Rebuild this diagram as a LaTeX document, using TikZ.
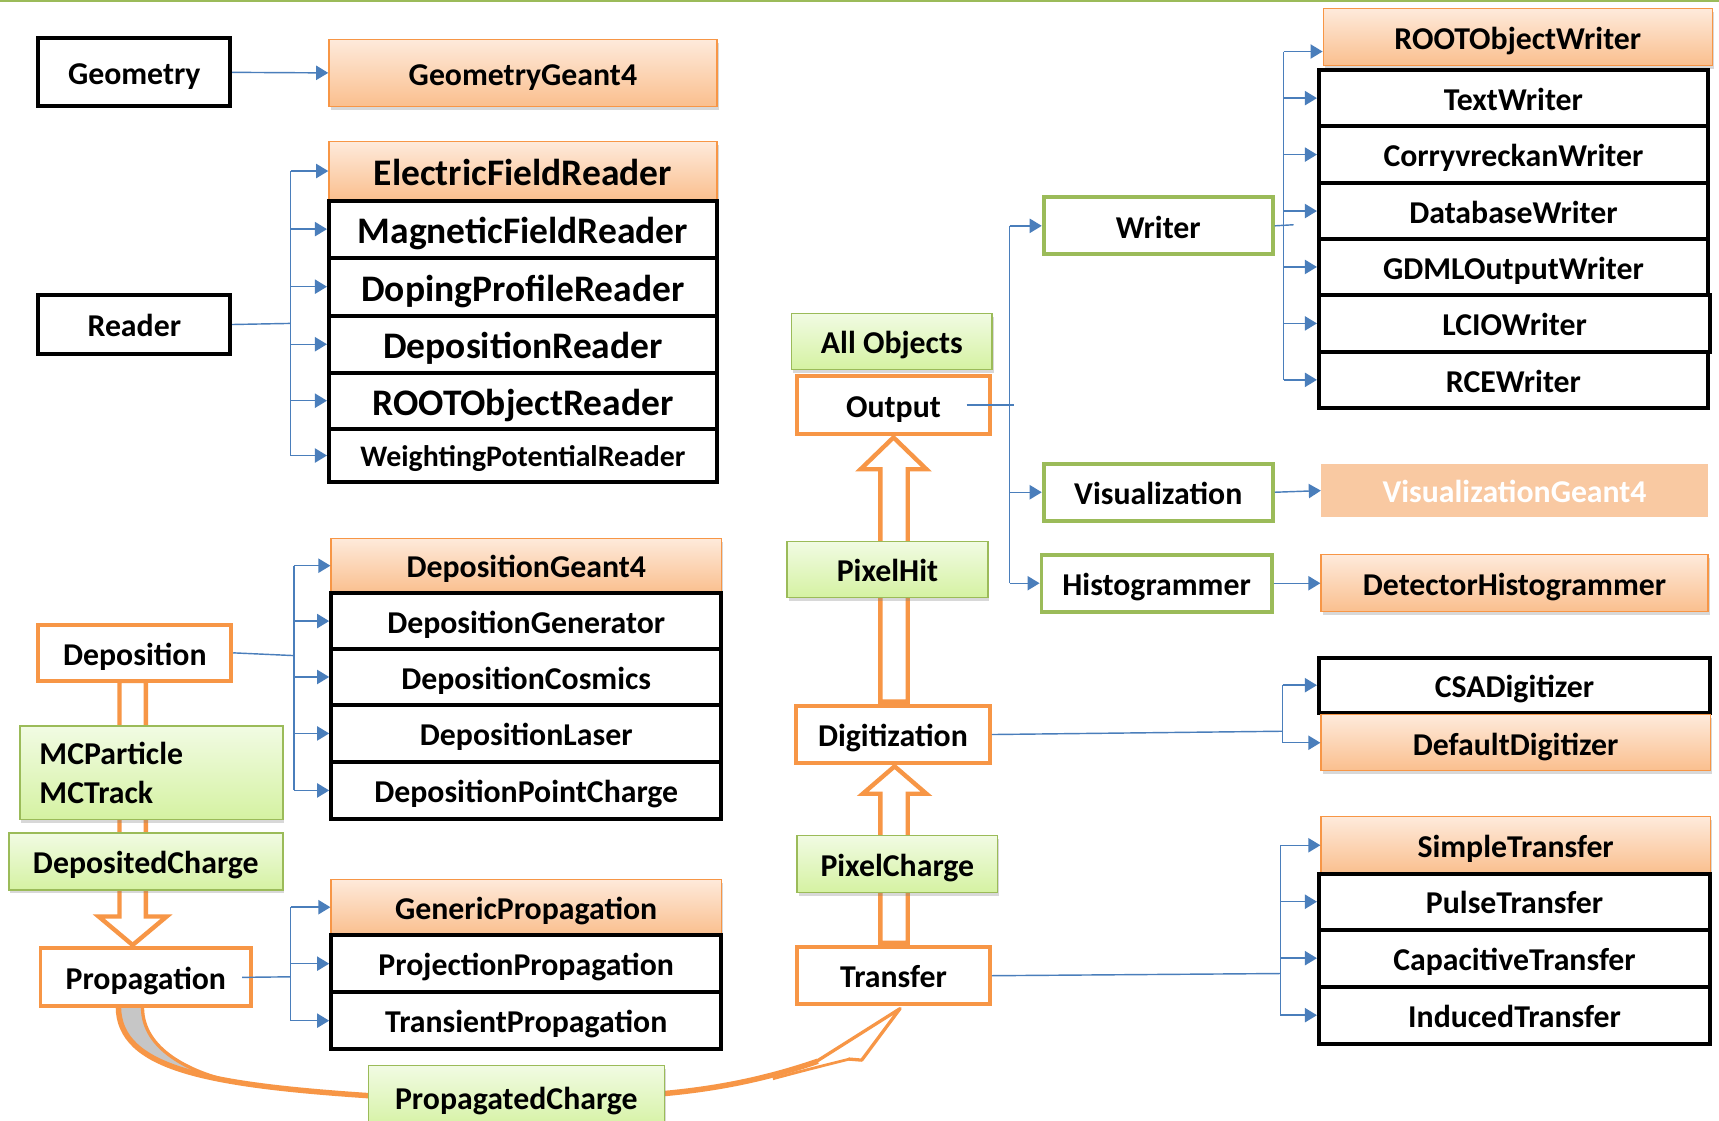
\documentclass[tikz,border=0pt]{standalone}
\usepackage{fontspec}
\setmainfont{Carlito}
\usetikzlibrary{arrows.meta,shadows}
\definecolor{ob}{HTML}{F79646}
\definecolor{otop}{HTML}{FEEADB}
\definecolor{obot}{HTML}{FABF8E}
\definecolor{gb}{HTML}{9BBB59}
\definecolor{gtop}{HTML}{F1FBE3}
\definecolor{gbot}{HTML}{D5F2A2}
\definecolor{bl}{HTML}{4A7EBB}
\definecolor{vg}{HTML}{F9C9A2}
\tikzset{
 base/.style={rectangle, inner sep=2pt, font=\fontsize{29}{34}\selectfont\bfseries},
 ctr/.style={text height=28.2pt, text depth=5.8pt},
 blackbox/.style={base, draw=black, line width=3.5pt, fill=white},
 orgrad/.style={base, draw=ob, line width=1.2pt, top color=otop, bottom color=obot,
   drop shadow={shadow xshift=1.5pt,shadow yshift=-3pt,opacity=.3}},
 grgrad/.style={base, draw=gb, line width=1.5pt, top color=gtop, bottom color=gbot,
   drop shadow={shadow xshift=1.5pt,shadow yshift=-3pt,opacity=.3}},
 orline/.style={base, draw=ob, line width=3.5pt, fill=white},
 grline/.style={base, draw=gb, line width=3.5pt, fill=white},
 visbox/.style={base, fill=vg, text=white},
 bigtxt/.style={font=\fontsize{34.2}{40}\selectfont\bfseries, text height=33.4pt, text depth=6.8pt},
 smalltxt/.style={font=\fontsize{27.2}{32}\selectfont\bfseries, text height=25.8pt, text depth=5.4pt},
 conn/.style={draw=bl, line width=1.3pt},
 arr/.style={conn, -{Triangle[length=11pt,width=13pt]}},
 blockarrow/.style={draw=ob, line width=4pt, fill=white, line join=miter},
}
\newcommand\bx[7]{\node[ctr, #1, minimum width={#5-#3}, minimum height={#6-#4}] (#2) at ({(#3+#5)/2},{(#4+#6)/2}) {#7};}
\begin{document}
\begin{tikzpicture}[x=1pt,y=-1pt]
\useasboundingbox[fill=white] (0,0) rectangle (1568,1022);
\draw[gb, line width=2pt] (0,1) -- (1568,1);

% block arrows
\draw[blockarrow] (109,621) -- (109,836) -- (90,836) -- (121,862) -- (152,836) -- (133,836) -- (133,621) -- cycle;
\draw[blockarrow] (803,640) -- (803,428) -- (785,428) -- (815,399) -- (845,428) -- (828,428) -- (828,640) -- cycle;
\draw[blockarrow] (803,860) -- (803,724) -- (787,724) -- (816,699) -- (845,724) -- (828,724) -- (828,860) -- cycle;

% curved arrow Propagation -> Transfer
\fill[gray!45] (108,918) .. controls (108,955) and (142.6,974.4) .. (209.4,986.1) .. controls (175,978) and (130,958) .. (130,919) -- cycle;
\draw[ob, line width=3pt] (130,919) .. controls (130,958) and (175,978) .. (209.4,986.1);
\draw[ob, line width=5pt] (108,918) .. controls (108,975) and (190,990) .. (345,1000);
\draw[ob, line width=5pt] (600,998) .. controls (660,993) and (705,982) .. (746,968);
\draw[ob, line width=2.5pt] (705,984) .. controls (735,976) .. (775,966);
\draw[ob, line width=3pt, line join=round] (745,968) -- (821,920) -- (786,967) -- (774,966);

% left column
\bx{blackbox}{geo}{35}{35}{210}{97}{Geometry}
\bx{orgrad}{geog4}{300}{36}{654}{97}{GeometryGeant4}
\bx{blackbox}{reader}{35}{269}{210}{323}{Reader}
\bx{orgrad,bigtxt}{efr}{300}{129}{654}{183}{ElectricFieldReader}
\bx{blackbox,bigtxt}{mfr}{300}{183}{654}{235}{MagneticFieldReader}
\bx{blackbox,bigtxt}{dpr}{300}{235}{654}{288}{DopingProfileReader}
\bx{blackbox,bigtxt}{der}{300}{288}{654}{340}{DepositionReader}
\bx{blackbox,bigtxt}{ror}{300}{340}{654}{391}{ROOTObjectReader}
\bx{blackbox,smalltxt}{wpr}{300}{391}{654}{440}{WeightingPotentialReader}

\bx{orline}{dep}{35}{570}{211}{621}{Deposition}
\node[grgrad, minimum width=240, minimum height=85, text width=204pt, align=left, inner xsep=17pt,
  font=\fontsize{29}{35}\selectfont\bfseries] (mcp) at (138,705) {MCParticle\\MCTrack};
\bx{grgrad}{dch}{8}{760}{258}{812}{DepositedCharge}
\bx{orline}{prop}{37}{865}{229}{918}{Propagation}
\bx{orgrad}{dg4}{302}{491}{658}{541}{DepositionGeant4}
\bx{blackbox}{dgen}{302}{541}{658}{592}{DepositionGenerator}
\bx{blackbox}{dcos}{302}{592}{658}{643}{DepositionCosmics}
\bx{blackbox}{dlas}{302}{643}{658}{695}{DepositionLaser}
\bx{blackbox}{dpc}{302}{695}{658}{747}{DepositionPointCharge}
\bx{orgrad}{gp}{302}{802}{658}{853}{GenericPropagation}
\bx{blackbox}{pp}{302}{853}{658}{905}{ProjectionPropagation}
\bx{blackbox}{tp}{302}{905}{658}{957}{TransientPropagation}
\bx{grgrad}{pch}{336}{972}{606}{1030}{PropagatedCharge}

% middle column
\bx{grgrad}{allobj}{722}{286}{905}{337}{All Objects}
\bx{orline}{out}{727}{343}{903}{396}{Output}
\bx{grgrad}{phit}{718}{494}{901}{545}{PixelHit}
\bx{orline}{digit}{726}{644}{903}{696}{Digitization}
\bx{grgrad}{pxch}{727}{762}{910}{814}{PixelCharge}
\bx{orline}{trans}{727}{864}{903}{916}{Transfer}

% right column
\bx{grline}{writer}{952}{180}{1161}{232}{Writer}
\bx{orgrad}{row}{1207}{8}{1562}{60}{ROOTObjectWriter}
\bx{blackbox}{tw}{1203}{64}{1558}{115}{TextWriter}
\bx{blackbox}{cw}{1203}{115}{1558}{167}{CorryvreckanWriter}
\bx{blackbox}{dbw}{1203}{167}{1558}{218}{DatabaseWriter}
\bx{blackbox}{gdml}{1203}{218}{1558}{269}{GDMLOutputWriter}
\bx{blackbox}{lcio}{1203}{269}{1560}{321}{LCIOWriter}
\bx{blackbox}{rce}{1203}{321}{1558}{372}{RCEWriter}
\bx{grline}{vis}{952}{423}{1161}{475}{Visualization}
\bx{visbox}{visg4}{1205}{423}{1558}{472}{VisualizationGeant4}
\bx{grline}{hist}{950}{506}{1160}{558}{Histogrammer}
\bx{orgrad}{dh}{1205}{506}{1558}{558}{DetectorHistogrammer}
\bx{blackbox}{csa}{1203}{600}{1560}{650}{CSADigitizer}
\bx{orgrad}{dd}{1205}{652}{1560}{703}{DefaultDigitizer}
\bx{orgrad}{st}{1205}{745}{1560}{797}{SimpleTransfer}
\bx{blackbox}{ptr}{1203}{797}{1560}{848}{PulseTransfer}
\bx{blackbox}{ct}{1203}{848}{1560}{900}{CapacitiveTransfer}
\bx{blackbox}{it}{1203}{900}{1560}{952}{InducedTransfer}

% connectors
\draw[arr] (geo.east) -- (geog4.west);

\coordinate (rb) at (265,295);
\draw[conn] (reader.east) -- (rb);
\draw[conn] (rb |- efr.west) -- (rb |- wpr.west);
\foreach \n in {efr,mfr,dpr,der,ror,wpr} \draw[arr] (rb |- \n.west) -- (\n.west);

\coordinate (db) at (268,598);
\draw[conn] (dep.east) -- (db);
\draw[conn] (db |- dg4.west) -- (db |- dpc.west);
\foreach \n in {dg4,dgen,dcos,dlas,dpc} \draw[arr] (db |- \n.west) -- (\n.west);

\coordinate (pb) at (265,891);
\draw[conn] ([xshift=-10pt]prop.east) -- (pb);
\draw[conn] (pb |- gp.west) -- (pb |- tp.west);
\foreach \n in {gp,pp,tp} \draw[arr] (pb |- \n.west) -- (\n.west);

\coordinate (ob1) at (921,369.5);
\coordinate (ob2) at (925,369.5);
\draw[conn] ([xshift=-23pt]out.east) -- (ob2);
\draw[conn] (ob1 |- writer.west) -- (ob1 |- hist.west);
\foreach \n in {writer,vis,hist} \draw[arr] (ob1 |- \n.west) -- (\n.west);

\coordinate (wb) at (1171,205);
\coordinate (wb2) at (1180,205);
\draw[conn] (writer.east) -- (wb2);
\draw[conn] ([yshift=-13pt]wb |- row.west) -- (wb |- rce.west);
\draw[arr] ([yshift=-13pt]wb |- row.west) -- ([yshift=-13pt]row.west);
\foreach \n in {tw,cw,dbw,gdml,lcio,rce} \draw[arr] (wb |- \n.west) -- (\n.west);

\draw[arr] (vis.east) -- (visg4.west);
\draw[arr] (hist.east) -- (dh.west);

\coordinate (gb1) at (1170,667);
\draw[conn] (digit.east) -- (gb1);
\draw[conn] (gb1 |- csa.west) -- (gb1 |- dd.west);
\foreach \n in {csa,dd} \draw[arr] (gb1 |- \n.west) -- (\n.west);

\coordinate (tb) at (1168,888);
\draw[conn] (trans.east) -- (tb);
\draw[conn] (tb |- st.west) -- (tb |- it.west);
\foreach \n in {st,ptr,ct,it} \draw[arr] (tb |- \n.west) -- (\n.west);
\end{tikzpicture}
\end{document}
